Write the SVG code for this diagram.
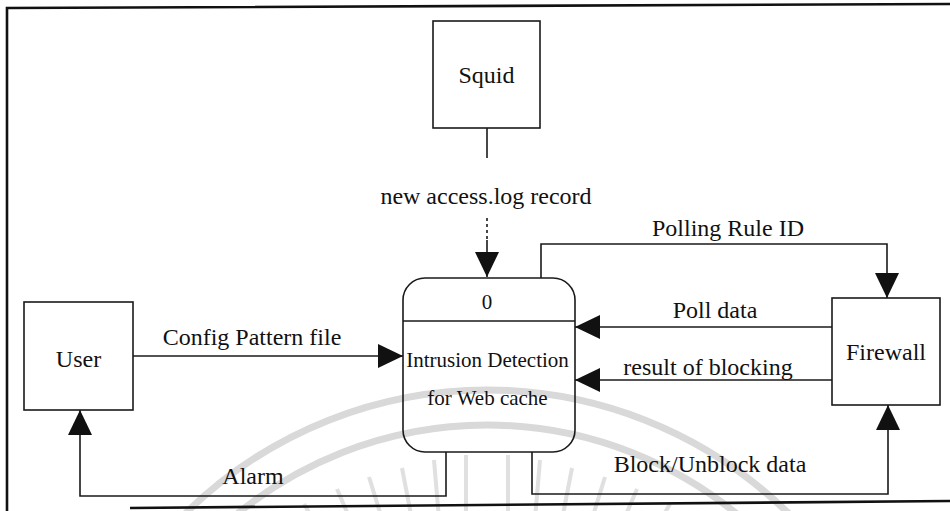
<svg xmlns="http://www.w3.org/2000/svg" width="950" height="511" viewBox="0 0 950 511">
  <style>
    .box { fill: none; stroke: #1a1a1a; stroke-width: 1.6; }
    .flow { fill: none; stroke: #1a1a1a; stroke-width: 1.6; }
    .frame { fill: none; stroke: #111; stroke-width: 2.6; }
    .lbl { font-family: "Liberation Serif", "Times New Roman", serif; font-size: 24px; fill: #111; text-anchor: middle; }
    .proc { font-family: "Liberation Serif", "Times New Roman", serif; font-size: 21px; fill: #111; text-anchor: middle; }
    .wm { fill: none; stroke: #d9d9d9; stroke-width: 7; }
    .ray { fill: none; stroke: #e0e0e0; stroke-width: 4; }
  </style>
  <defs>
    <marker id="head" markerUnits="userSpaceOnUse" markerWidth="26" markerHeight="26" refX="25" refY="12" orient="auto">
      <path d="M0,0 L25,12 L0,24 Z" fill="#111"/>
    </marker>
  </defs>

  <rect width="950" height="511" fill="#fff"/>

  <!-- faint background seal -->
  <g id="seal">
    <path class="wm" d="M 57 820 A 430 430 0 0 1 917 820"/>
    <path class="wm" d="M 92 820 A 395 395 0 0 1 882 820"/>
    <g class="ray">
      <line x1="337" y1="560" x2="304" y2="504"/>
      <line x1="362" y1="547" x2="337" y2="489"/>
      <line x1="387" y1="535" x2="369" y2="477"/>
      <line x1="413" y1="525" x2="402" y2="468"/>
      <line x1="439" y1="519" x2="434" y2="460"/>
      <line x1="466" y1="516" x2="466" y2="455"/>
      <line x1="508" y1="516" x2="508" y2="455"/>
      <line x1="535" y1="519" x2="540" y2="460"/>
      <line x1="561" y1="525" x2="572" y2="468"/>
      <line x1="587" y1="535" x2="605" y2="477"/>
      <line x1="612" y1="547" x2="637" y2="489"/>
      <line x1="637" y1="560" x2="670" y2="504"/>
    </g>
  </g>

  <!-- page frame -->
  <g id="frame">
    <path class="frame" d="M 950 4 L 7 8 L 7 511"/>
    <path class="frame" d="M 130 508 L 950 501"/>
  </g>

  <!-- connectors -->
  <g id="connectors">
    <line class="flow" x1="487" y1="128" x2="487" y2="158"/>
    <line class="flow" x1="487" y1="218" x2="487" y2="240" stroke-dasharray="3 3"/>
    <line class="flow" x1="487" y1="240" x2="487" y2="277" marker-end="url(#head)"/>
    <polyline class="flow" points="541,278 541,244 887,244 887,298" marker-end="url(#head)"/>
    <line class="flow" x1="832" y1="327" x2="575" y2="327" marker-end="url(#head)"/>
    <line class="flow" x1="832" y1="380" x2="575" y2="380" marker-end="url(#head)"/>
    <line class="flow" x1="133" y1="356" x2="403" y2="356" marker-end="url(#head)"/>
    <polyline class="flow" points="446,452 446,496 80,496 80,410" marker-end="url(#head)"/>
    <polyline class="flow" points="532,452 532,494 888,494 888,405" marker-end="url(#head)"/>

    <text class="lbl" x="486" y="204">new access.log record</text>
    <text class="lbl" x="728" y="236">Polling Rule ID</text>
    <text class="lbl" x="715" y="318">Poll data</text>
    <text class="lbl" x="708" y="375">result of blocking</text>
    <text class="lbl" x="252" y="345">Config Pattern file</text>
    <text class="lbl" x="253" y="484">Alarm</text>
    <text class="lbl" x="710" y="472">Block/Unblock data</text>
  </g>

  <!-- external entities -->
  <g id="squid">
    <rect class="box" x="433" y="21" width="107" height="107"/>
    <text class="lbl" x="486.5" y="83">Squid</text>
  </g>
  <g id="user">
    <rect class="box" x="24" y="302" width="109" height="108"/>
    <text class="lbl" x="78.5" y="367">User</text>
  </g>
  <g id="firewall">
    <rect class="box" x="832" y="298" width="108" height="107"/>
    <text class="lbl" x="886" y="360">Firewall</text>
  </g>

  <!-- process 0 -->
  <g id="process-0">
    <rect class="box" x="403" y="278" width="172" height="174" rx="22" ry="22"/>
    <line class="box" x1="403" y1="321" x2="575" y2="321"/>
    <text class="proc" x="487" y="309">0</text>
    <text class="proc" x="487.5" y="367">Intrusion Detection</text>
    <text class="proc" x="487.5" y="405">for Web cache</text>
  </g>
</svg>
